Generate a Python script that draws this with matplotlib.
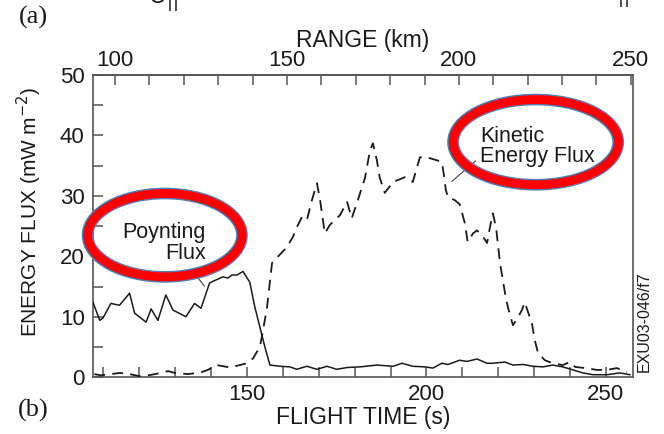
import matplotlib
matplotlib.use("Agg")
import matplotlib.pyplot as plt
from matplotlib.patches import Ellipse
from matplotlib.ticker import MultipleLocator, FixedLocator

plt.rcParams['font.family'] = ['Liberation Sans', 'DejaVu Sans']

# Poynting flux (solid), flight time in s vs mW m^-2
poynting_t = [107.1, 109.0, 109.9, 112.1, 114.5, 117.3, 118.7, 121.9, 123.3, 125.2,
              127.4, 129.4, 133.0, 135.4, 137.2, 139.6, 141.4, 143.3, 144.7, 145.8,
              147.2, 148.9, 150.8, 152.2, 153.6, 155.0, 156.4, 159.2, 162.0, 163.9,
              166.7, 169.5, 172.3, 175.0, 178.0, 181.5, 186.2, 190.7, 193.2, 196.2,
              199.6, 201.8, 204.3, 206.0, 209.3, 211.3, 214.1, 216.9, 218.5, 221.9,
              224.1, 226.9, 229.7, 232.5, 235.2, 238.0, 240.8, 243.6, 246.4, 250.3,
              253.9, 256.7]
poynting_v = [12.4, 9.4, 9.8, 12.2, 11.9, 13.9, 10.6, 9.1, 11.3, 9.4,
              13.6, 11.1, 10.0, 12.2, 11.4, 15.6, 16.1, 16.6, 16.4, 16.9,
              16.9, 17.5, 15.7, 11.6, 8.3, 5.0, 2.0, 1.8, 1.7, 1.3,
              1.8, 1.3, 1.8, 1.3, 1.6, 1.7, 2.0, 1.8, 2.3, 1.8,
              1.7, 1.5, 2.3, 2.1, 2.8, 2.6, 3.0, 2.3, 2.3, 2.5,
              2.0, 2.1, 1.8, 1.7, 2.0, 1.7, 1.2, 0.7, 0.4, 0.4,
              0.7, 0.4]

# Kinetic energy flux (dashed)
kinetic_t = [107.5, 109.3, 114.6, 117.4, 120.5, 124.4, 128.0, 129.9, 133.6, 137.2,
             139.1, 141.6, 145.3, 148.0, 150.0, 151.7, 153.6, 154.5, 155.6, 157.0,
             158.4, 161.1, 162.8, 163.9, 165.3, 166.7, 168.1, 169.5, 170.3, 171.7,
             173.1, 175.9, 177.9, 179.2, 180.9, 182.9, 184.3, 185.1, 186.2, 187.0,
             188.4, 190.7, 194.0, 196.2, 197.4, 198.2, 200.1, 202.9, 204.3, 204.9,
             205.4, 206.0, 207.9, 209.3, 210.7, 211.5, 213.0, 214.1, 215.5, 216.9,
             217.7, 218.5, 219.4, 220.5, 221.9, 222.7, 224.1, 225.5, 226.6, 227.4,
             228.3, 229.4, 230.2, 231.1, 233.0, 235.2, 238.0, 240.0, 241.4, 244.2,
             247.5, 250.3, 253.1, 255.8]
kinetic_v = [0.5, 0.3, 0.7, 0.5, 0.1, 0.5, 1.0, 0.7, 0.5, 0.8,
             1.2, 2.0, 1.6, 2.0, 2.3, 3.1, 5.0, 7.8, 11.6, 18.9,
             19.8, 21.5, 23.2, 24.8, 26.5, 26.0, 29.3, 32.1, 29.6, 23.8,
             25.2, 26.8, 29.0, 26.3, 29.3, 33.0, 37.6, 38.7, 35.9, 33.0,
             30.5, 32.3, 33.1, 32.3, 34.8, 36.4, 36.4, 35.9, 35.6, 33.4,
             31.0, 29.8, 29.3, 28.6, 25.5, 22.4, 23.8, 24.3, 23.5, 22.2,
             24.8, 27.1, 24.8, 18.9, 13.9, 11.6, 8.6, 9.9, 11.1, 12.4,
             10.8, 8.9, 6.1, 4.0, 2.8, 2.3, 2.0, 2.5, 1.7, 1.5,
             1.2, 1.2, 1.5, 0.8]

bottom_ticks = [150, 200, 250]
top_ticks = [100, 150, 200, 250]
y_ticks = [0, 10, 20, 30, 40, 50]


def time_to_range(t):
    return 138.37 + 1.0436 * (t - 150.0)


def range_to_time(r):
    return 150.0 + (r - 138.37) / 1.0436


fig = plt.figure(figsize=(6.64, 4.34), dpi=100)
ax = fig.add_axes([0.140, 0.131, 0.813, 0.696])

ink = '#1a1a1a'
spine_col = '#555555'

ax.plot(poynting_t, poynting_v, color=ink, lw=1.1, zorder=3)
ax.plot(kinetic_t, kinetic_v, color=ink, lw=1.3, dashes=(6, 4), zorder=3)

ax.set_xlim(107.1, 257.5)
ax.set_ylim(0, 50)

for s in ax.spines.values():
    s.set_color(spine_col)
    s.set_linewidth(1.2)

ax.xaxis.set_major_locator(FixedLocator(bottom_ticks))
ax.xaxis.set_minor_locator(MultipleLocator(10))
ax.yaxis.set_major_locator(FixedLocator(y_ticks))
ax.yaxis.set_minor_locator(MultipleLocator(5))
ax.tick_params(axis='both', which='both', direction='in', color=spine_col,
               width=1.1, labelsize=16, labelcolor=ink)
ax.tick_params(axis='x', which='both', length=7, pad=5)
ax.tick_params(axis='y', which='both', length=7, pad=6)
ax.tick_params(axis='y', which='both', right=False)

ax.set_xlabel('FLIGHT TIME (s)', fontsize=16.5, color=ink, labelpad=1)
ax.set_ylabel('ENERGY FLUX (mW m$^{-2}$)', fontsize=15, color=ink, labelpad=6)
ax.yaxis.set_label_coords(-0.090, 0.546)

top = ax.secondary_xaxis('top', functions=(time_to_range, range_to_time))
top.xaxis.set_major_locator(FixedLocator(top_ticks))
top.xaxis.set_minor_locator(MultipleLocator(10))
top.tick_params(axis='x', which='both', direction='in', length=7, width=1.1,
                color=spine_col, labelsize=16, labelcolor=ink, pad=3)
top.spines['top'].set_color(spine_col)
top.spines['top'].set_linewidth(1.2)
top.set_xlabel('RANGE (km)', fontsize=16.5, color=ink, labelpad=2)

# Callout labels with leader lines
ax.text(138.6, 22.2, 'Poynting\nFlux', ha='right', va='center', multialignment='right',
        fontsize=15.5, linespacing=0.95, color=ink, zorder=4)
ax.annotate('', xy=(138.6, 14.7), xytext=(134.1, 18.2),
            arrowprops=dict(arrowstyle='-', color='#444444', lw=0.8), zorder=2)
ax.text(214.9, 38.2, 'Kinetic\nEnergy Flux', ha='left', va='center', multialignment='left',
        fontsize=15.5, linespacing=0.95, color=ink, zorder=4)
ax.annotate('', xy=(206.5, 32.1), xytext=(214.3, 36.1),
            arrowprops=dict(arrowstyle='-', color='#444444', lw=0.8), zorder=2)

# Highlight rings around the callouts
for cx, cy, w, h in [(0.133, 0.470, 0.286, 0.276), (0.820, 0.778, 0.306, 0.282)]:
    ax.add_patch(Ellipse((cx, cy), w, h, transform=ax.transAxes, fill=False,
                         edgecolor='#4F81BD', lw=8.4, clip_on=False, zorder=5))
    ax.add_patch(Ellipse((cx, cy), w, h, transform=ax.transAxes, fill=False,
                         edgecolor='#FF0000', lw=6.4, clip_on=False, zorder=6))

fig.text(0.971, 0.258, 'EXU03-046/f7', rotation=90, ha='center', va='center',
         fontsize=11.5, color=ink)
fig.text(0.050, 0.960, '(a)', family=['Liberation Serif', 'DejaVu Serif'],
         fontsize=19, ha='center', va='center', color=ink)
fig.text(0.050, 0.055, '(b)', family=['Liberation Serif', 'DejaVu Serif'],
         fontsize=19, ha='center', va='center', color=ink)
fig.text(0.246, 1.005, r'U$_{||}$', fontsize=18, ha='center', va='center', color=ink)
fig.text(0.938, 1.005, r'$_{||}$', fontsize=18, ha='center', va='center', color=ink)

fig.savefig('out.png', dpi=100)
